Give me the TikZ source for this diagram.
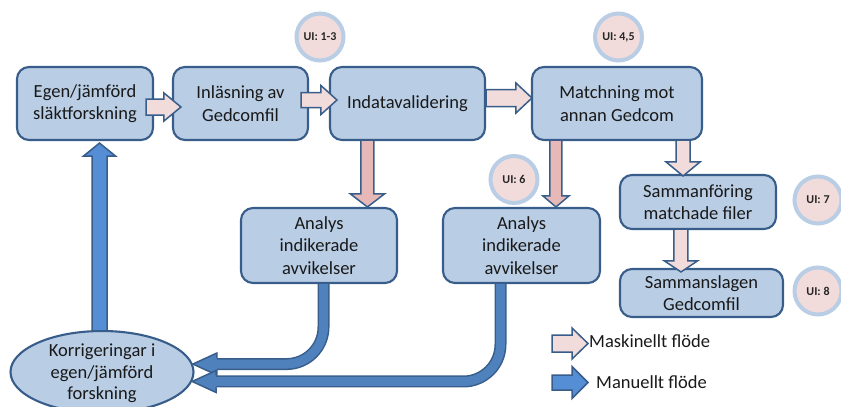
\documentclass[tikz,border=0pt]{standalone}
\usepackage{fontspec}
\setmainfont{Carlito}
\usetikzlibrary{calc,shapes.geometric}
\definecolor{boxfill}{HTML}{B9CDE5}
\definecolor{boxline}{HTML}{385D8A}
\definecolor{lightpink}{HTML}{F2DCDB}
\definecolor{darkpink}{HTML}{E6B9B8}
\definecolor{manblue}{HTML}{558ED5}
\definecolor{curveblue}{HTML}{4F81BD}
\def\rarrow[#1](#2)(#3)(#4:#5:#6){\draw[#1] let \p1=(#2), \p2=(#3) in (\x1,\y1+#4) -- (\x2-#6,\y1+#4) -- (\x2-#6,\y1+#5) -- (\x2,\y1) -- (\x2-#6,\y1-#5) -- (\x2-#6,\y1-#4) -- (\x1,\y1-#4) -- cycle;}
\def\darrow[#1](#2)(#3)(#4:#5:#6){\draw[#1] let \p1=(#2), \p2=(#3) in (\x1-#4,\y1) -- (\x1-#4,\y2+#6) -- (\x1-#5,\y2+#6) -- (\x1,\y2) -- (\x1+#5,\y2+#6) -- (\x1+#4,\y2+#6) -- (\x1+#4,\y1) -- cycle;}
\def\uarrow[#1](#2)(#3)(#4:#5:#6){\draw[#1] let \p1=(#2), \p2=(#3) in (\x1-#4,\y1) -- (\x1-#4,\y2-#6) -- (\x1-#5,\y2-#6) -- (\x1,\y2) -- (\x1+#5,\y2-#6) -- (\x1+#4,\y2-#6) -- (\x1+#4,\y1) -- cycle;}
\def\carrow[#1](#2)(#3){%
  \draw[manline] (#2) |- ($(#3)+(24,0)$);
  \draw[manline, line width=9pt, draw=#1] (#2) |- ($(#3)+(24,0)$);
  \fill[#1] let \p1=(#3) in (\x1,\y1) -- (\x1+24pt,\y1+11pt) -- (\x1+24pt,\y1-11pt) -- cycle;
  \draw[boxline, line width=1.5pt, line join=miter] let \p1=(#3) in (\x1+24pt,\y1+6pt) -- (\x1+24pt,\y1+11pt) -- (\x1,\y1) -- (\x1+24pt,\y1-11pt) -- (\x1+24pt,\y1-6pt);}

\begin{document}
\begin{tikzpicture}[x=1pt,y=-1pt,
  procbox/.style={rectangle, rounded corners=12pt, draw=boxline, fill=boxfill, line width=2.1pt, align=center, inner sep=2pt, text=black!90, font=\fontsize{18.5}{22.3}\selectfont},
  ui/.style={circle, draw=boxfill, fill=lightpink, line width=4pt, minimum size=47pt, inner sep=0pt, font=\bfseries\fontsize{12}{14}\selectfont, text=black!85},
  legtext/.style={anchor=west, inner sep=0pt, text=black!90, font=\fontsize{18.5}{22.3}\selectfont},
  pinkarr/.style={fill=lightpink, draw=boxline, line width=1.5pt, line join=miter},
  darkarr/.style={pinkarr, fill=darkpink},
  bluearr/.style={pinkarr, fill=manblue},
  manline/.style={draw=boxline, line width=12pt, rounded corners=37pt}]
\useasboundingbox (0,0) rectangle (841,407);

% process boxes
\node[procbox, minimum width=136pt, minimum height=73pt] (egen) at (85,103.5) {Egen/jämförd\\släktforskning};
\node[procbox, minimum width=135pt, minimum height=73pt] (inl) at (240.5,103.5) {Inläsning av\\Gedcomfil};
\node[procbox, minimum width=155pt, minimum height=73pt] (indata) at (407.5,103.5) {Indatavalidering};
\node[procbox, minimum width=170pt, minimum height=73pt] (match) at (617,103.5) {Matchning mot\\annan Gedcom};
\node[procbox, minimum width=156pt, minimum height=54pt] (samf) at (698,202) {Sammanföring\\matchade filer};
\node[procbox, minimum width=163pt, minimum height=48pt] (saml) at (701.5,293) {Sammanslagen\\Gedcomfil};
\node[procbox, minimum width=156pt, minimum height=75pt] (an1) at (319,245.5) {Analys\\indikerade\\avvikelser};
\node[procbox, minimum width=157pt, minimum height=75pt] (an2) at (521.5,245.5) {Analys\\indikerade\\avvikelser};

% correction ellipse
\node[ellipse, draw=boxline, fill=boxfill, line width=2.1pt, minimum width=183pt, minimum height=82pt, inner sep=0pt] (ell) at (102,372) {};
\node[align=center, text=black!90, font=\fontsize{18.5}{21.5}\selectfont] (elltext) at ($(ell.center)+(0,1.5)$) {Korrigeringar i\\egen/jämförd\\forskning};

% UI markers
\node[ui] (ui13) at (320,37) {UI: 1-3};
\node[ui] (ui45) at (618.5,37) {UI: 4,5};
\node[ui] (ui6) at (514,179.5) {UI: 6};
\node[ui] (ui7) at (818,200) {UI: 7};
\node[ui] (ui8) at (818,291) {UI: 8};

% legend
\node[legtext] (mask) at (589,341) {Maskinellt flöde};
\node[legtext] (manu) at (596,382) {Manuellt flöde};

% machine flow
\rarrow[pinkarr]($(egen.east)+(-8,3.5)$)($(inl.west)+(9,0)$)(8pt:14pt:17pt)
\rarrow[pinkarr]($(inl.east)+(-8,-3.5)$)($(indata.west)+(8,0)$)(7.5pt:14.5pt:16pt)
\rarrow[pinkarr]($(indata.east)+(0,-5.5)$)($(match.west)+(1,0)$)(8.5pt:15pt:16pt)
\darrow[darkarr]($(indata.south west)+(38.5,-1)$)(an1.north)(6.5pt:17pt:13pt)
\darrow[darkarr]($(match.south west)+(25,-1)$)(an2.north)(6pt:13pt:11pt)
\darrow[pinkarr]($(match.south east)+(-20,-1)$)($(samf.north)+(0,2)$)(7pt:17pt:14pt)
\darrow[pinkarr]($(samf.south west)+(62,-1)$)($(saml.north)+(0,4)$)(7pt:16.5pt:11pt)

% manual flow
\uarrow[bluearr]($(ell.north)+(-2.5,1)$)($(egen.south)+(14.5,2)$)(7.5pt:16pt:13pt)
\carrow[curveblue]($(an1.south)+(4.5,0)$)(ell.5)
\carrow[curveblue]($(an2.south)+(-21,0)$)(ell.-6)

% legend arrows
\rarrow[pinkarr]($(mask.west)+(-37,2.5)$)($(mask.west)+(-1,0)$)(8.5pt:15.5pt:16pt)
\rarrow[bluearr]($(manu.west)+(-44,0.5)$)($(manu.west)+(-8,0)$)(7.5pt:16pt:16pt)
\end{tikzpicture}
\end{document}
